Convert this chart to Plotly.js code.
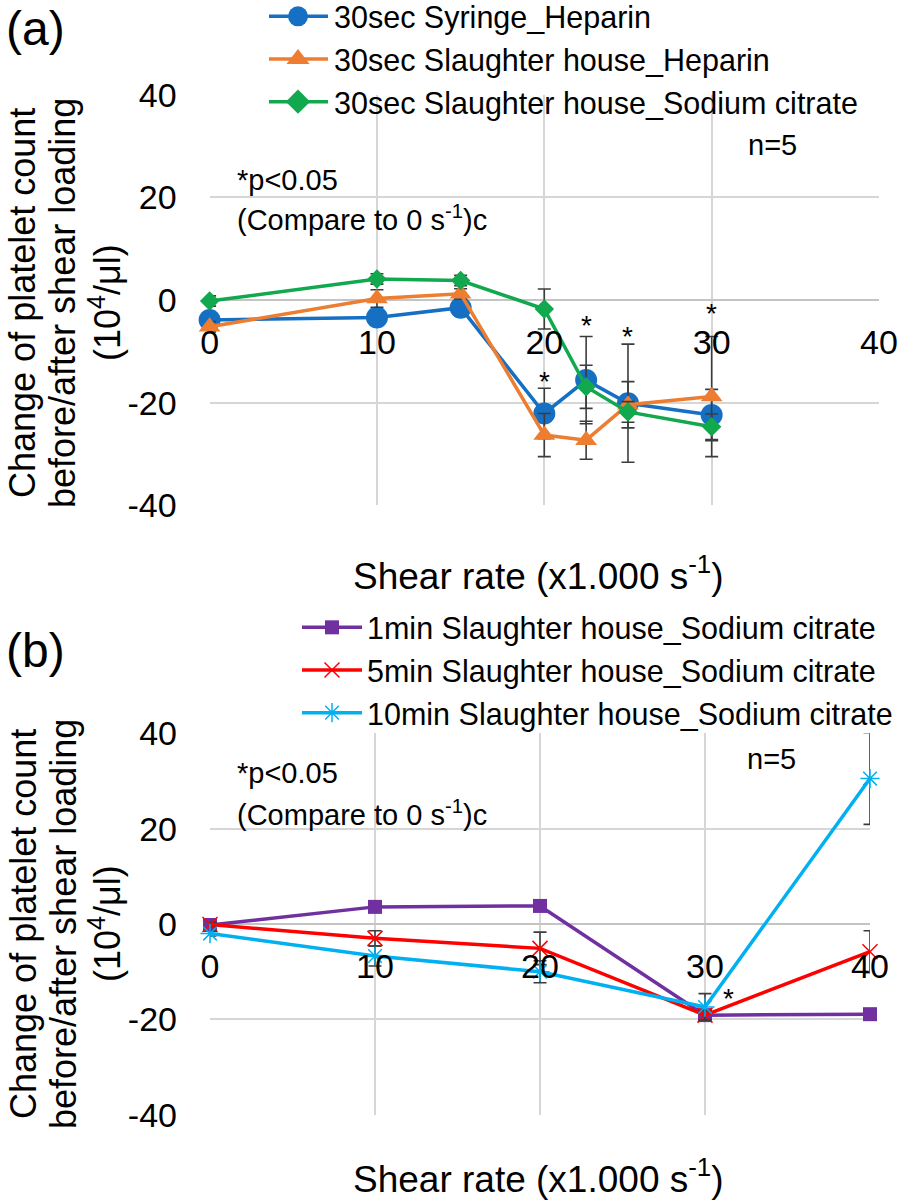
<!DOCTYPE html>
<html><head><meta charset="utf-8">
<script src="https://cdn.plot.ly/plotly-3.0.1.min.js"></script>
<style>html,body{margin:0;padding:0;background:#fff}#chart{width:902px;height:1203px}</style>
</head><body><div id="chart"></div><script>
const W = 902, H = 1203;
const FONT = '"Liberation Sans", Arial, sans-serif';

// ---------- Panel (a) data ----------
const shearA = [0, 10, 15, 20, 22.5, 25, 30];
const syringeHeparin = [-3.9, -3.4, -1.5, -22.1, -15.6, -20.1, -22.4];
const syringeHeparinErr = [1.0, 1.2, 1.0, 4.9, 8.5, 11.5, 5.0];
const slaughterHeparin = [-5.2, 0.3, 1.2, -26.3, -27.3, -20.4, -18.8];
const slaughterHeparinErr = [1.0, 1.7, 1.0, 4.2, 3.7, 4.5, 11.7];
const slaughterCitrate30s = [-0.2, 4.1, 3.8, -1.75, -16.9, -21.8, -24.7];
const slaughterCitrate30sErr = [1.0, 1.0, 1.0, 3.9, 4.2, 2.0, 2.5];

// ---------- Panel (b) data ----------
const shearB = [0, 10, 20, 30, 40];
const citrate1min = [-0.2, 3.6, 3.8, -19.1, -18.9];
const citrate1minErr = [0.5, 0.8, 0.8, 1.0, 1.0];
const citrate5min = [-0.1, -3.0, -5.1, -19.1, -5.8];
const citrate5minErr = [0.5, 1.6, 3.4, 1.0, 4.4];
const citrate10min = [-2.0, -6.7, -10.0, -17.4, 30.5];
const citrate10minErr = [0.5, 2.1, 2.3, 2.8, 9.6];

// ---------- Labels ----------
const namesA = ['30sec Syringe_Heparin', '30sec Slaughter house_Heparin', '30sec Slaughter house_Sodium citrate'];
const namesB = ['1min Slaughter house_Sodium citrate', '5min Slaughter house_Sodium citrate', '10min Slaughter house_Sodium citrate'];
const xTickVals = [0, 10, 20, 30, 40];
const xTickText = ['0', '10', '20', '30', '40'];
const yTickVals = [-40, -20, 0, 20, 40];
const yTickText = ['-40', '-20', '0', '20', '40'];
const starsA = [[20, -14.9], [22.5, -3.9], [25, -6.2], [30, -1.6]];
const starsB = [[31.4, -14.5]];

const ERRC = '#3c3c3c';
function trace(x, y, err, name, color, marker, lw, xa, ya, leg) {
  return {
    type: 'scatter', mode: 'lines+markers', x: x, y: y, name: name,
    xaxis: xa, yaxis: ya, legend: leg, cliponaxis: false,
    line: {color: color, width: lw},
    marker: Object.assign({color: color}, marker),
    error_y: {type: 'data', array: err, visible: true, color: ERRC, thickness: 1.6, width: 6.5}
  };
}

const data = [
  trace(shearA, syringeHeparin, syringeHeparinErr, namesA[0], '#1570c4', {symbol: 'circle', size: 22}, 3.5, 'x', 'y', 'legend'),
  trace(shearA, slaughterHeparin, slaughterHeparinErr, namesA[1], '#ed7d31', {symbol: 'triangle-up', size: 19}, 3.5, 'x', 'y', 'legend'),
  trace(shearA, slaughterCitrate30s, slaughterCitrate30sErr, namesA[2], '#11a84e', {symbol: 'diamond', size: 15}, 3.5, 'x', 'y', 'legend'),
  trace(shearB, citrate1min, citrate1minErr, namesB[0], '#7030a0', {symbol: 'square', size: 14}, 3.5, 'x2', 'y2', 'legend2'),
  trace(shearB, citrate5min, citrate5minErr, namesB[1], '#ff0000', {symbol: 'x-thin-open', size: 15, line: {color: '#ff3030', width: 1.5}}, 3.5, 'x2', 'y2', 'legend2'),
  trace(shearB, citrate10min, citrate10minErr, namesB[2], '#00b0f0', {symbol: 'asterisk-open', size: 16, line: {color: '#00b0f0', width: 1.5}}, 3.5, 'x2', 'y2', 'legend2')
];

const px = p => p / W;
const py = p => 1 - p / H;

// plot areas (pixels)
const A = {l: 209.6, r: 879, t: 94.6, b: 505.4, z: 300};
const B = {l: 210, r: 870, t: 733.3, b: 1114.8, z: 924};

function xAxis(P) {
  return {
    domain: [px(P.l), px(P.r)], range: [0, 40], anchor: 'free', position: py(P.z),
    tickmode: 'array', tickvals: xTickVals, ticktext: xTickText,
    showgrid: true, gridcolor: '#d6d6d6', gridwidth: 2, zeroline: false, showline: false,
    ticks: '', ticklabelstandoff: 19,
    tickfont: {family: FONT, size: 34, color: '#000'}, fixedrange: true
  };
}
function yAxis(P, xa) {
  return {
    domain: [py(P.b), py(P.t)], range: [-40, 40], anchor: xa,
    tickmode: 'array', tickvals: yTickVals, ticktext: yTickText,
    showgrid: true, gridcolor: '#d6d6d6', gridwidth: 2,
    zeroline: true, zerolinecolor: '#c4c4c4', zerolinewidth: 2, showline: false,
    ticks: '', ticklabelstandoff: 32,
    tickfont: {family: FONT, size: 34, color: '#000'}, fixedrange: true
  };
}

function pa(text, x, y, size, opts) {
  return Object.assign({text: text, xref: 'paper', yref: 'paper', x: px(x), y: py(y),
    xanchor: 'center', yanchor: 'middle',
    showarrow: false, font: {family: FONT, size: size, color: '#000'}}, opts || {});
}

const annotations = [
  pa('(a)', 35, 29, 48),
  pa('(b)', 35, 650, 48),
  // y titles
  pa('Change of platelet count', 23, A.z + 3, 36, {textangle: -90}),
  pa('before/after shear loading', 63, A.z + 3, 36, {textangle: -90}),
  pa('(10<sup>4</sup>/μl)', 105, A.z + 3, 36, {textangle: -90}),
  pa('Change of platelet count', 23, B.z, 36, {textangle: -90}),
  pa('before/after shear loading', 63, B.z, 36, {textangle: -90}),
  pa('(10<sup>4</sup>/μl)', 105, B.z, 36, {textangle: -90}),
  // x titles
  pa('Shear rate (x1.000 s<sup>-1</sup>)', 538, 573, 37),
  pa('Shear rate (x1.000 s<sup>-1</sup>)', 538, 1176, 37),
  // notes
  pa('*p<0.05', 235, 180, 29, {xanchor: 'left'}),
  pa('(Compare to 0 s<sup>-1</sup>)c', 235, 218, 29, {xanchor: 'left'}),
  pa('n=5', 772, 145, 29),
  pa('*p<0.05', 235, 773, 29, {xanchor: 'left'}),
  pa('(Compare to 0 s<sup>-1</sup>)c', 235, 813, 29, {xanchor: 'left'}),
  pa('n=5', 771, 759, 29)
];
starsA.forEach(s => annotations.push({text: '*', x: s[0], y: s[1], xref: 'x', yref: 'y', showarrow: false, yshift: -5,
  xanchor: 'center', yanchor: 'middle', font: {family: FONT, size: 28, color: '#000'}}));
starsB.forEach(s => annotations.push({text: '*', x: s[0], y: s[1], xref: 'x2', yref: 'y2', showarrow: false, yshift: -5,
  xanchor: 'center', yanchor: 'middle', font: {family: FONT, size: 28, color: '#000'}}));

const legendBase = {
  xanchor: 'left', yanchor: 'top', bgcolor: 'rgba(0,0,0,0)', borderwidth: 0, itemwidth: 60,
  font: {family: FONT, size: 30.5, color: '#000'}, tracegroupgap: 0, itemclick: false, itemdoubleclick: false
};

const layout = {
  width: W, height: H, margin: {l: 0, r: 0, t: 0, b: 0, autoexpand: false},
  paper_bgcolor: '#fff', plot_bgcolor: '#fff',
  font: {family: FONT, color: '#000'},
  xaxis: xAxis(A), yaxis: yAxis(A, 'x'),
  xaxis2: xAxis(B), yaxis2: yAxis(B, 'x2'),
  legend: Object.assign({x: px(264), y: py(-10)}, legendBase),
  legend2: Object.assign({x: px(297), y: py(601)}, legendBase),
  annotations: annotations,
  showlegend: true
};

Plotly.newPlot('chart', data, layout, {staticPlot: true, displayModeBar: false}).then(function (gd) {
  // lengthen the legend line samples (Excel-style), keeping the marker on the line centre
  try {
    gd.querySelectorAll('.traces').forEach(function (t) {
      var txt = t.querySelector('.legendtext');
      if (!txt) return;
      var big = txt.textContent.indexOf('30sec') === 0;
      t.querySelectorAll('.legendlines path').forEach(function (p) { p.setAttribute('d', 'M5,0h59'); });
      t.querySelectorAll('.legendpoints path').forEach(function (p) {
        p.setAttribute('transform', 'translate(34,0)' + (big ? ' scale(1.25)' : ''));
      });
    });
  } catch (e) {}
});
</script></body></html>
